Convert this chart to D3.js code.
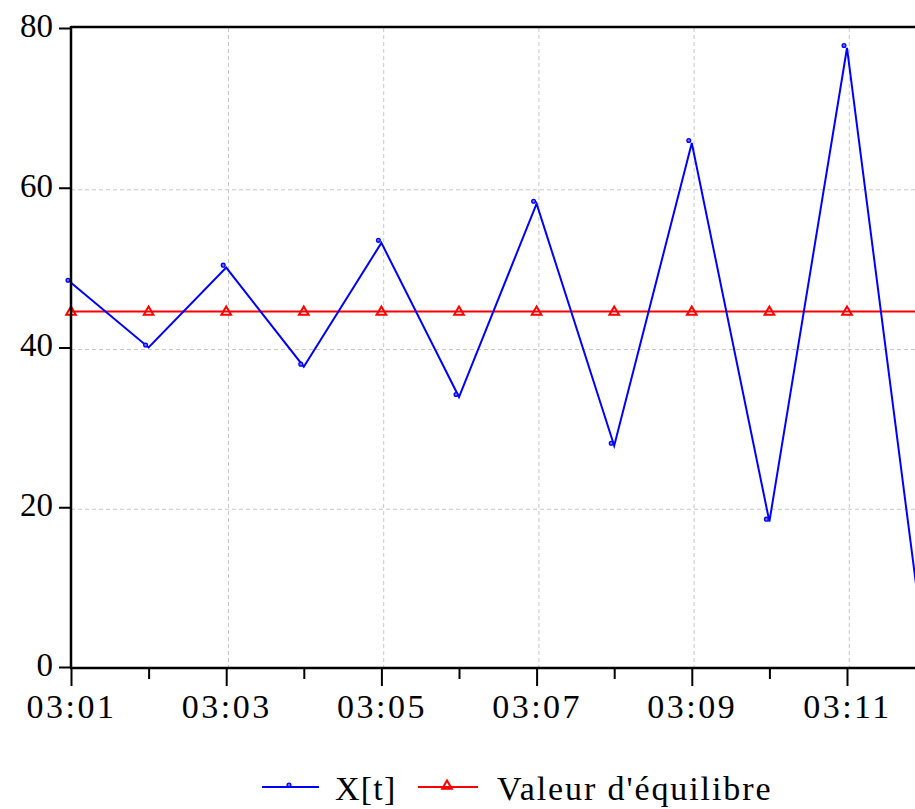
<!DOCTYPE html>
<html>
<head>
<meta charset="utf-8">
<script src="https://cdn.jsdelivr.net/npm/d3@7"></script>
<style>
  body { margin: 0; background: #fff; overflow: hidden; }
  svg text { font-family: "Times New Roman", Times, "Liberation Serif", "DejaVu Serif", "Noto Serif", serif; fill: #000; }
</style>
</head>
<body>
<svg width="915" height="809"></svg>
<script>
(function() {
  // values
  var times = ["03:01", "03:02", "03:03", "03:04", "03:05", "03:06",
               "03:07", "03:08", "03:09", "03:10", "03:11", "03:12"];
  var xt = [48.1, 40.0, 50.0, 37.6, 53.1, 33.8, 58.0, 27.7, 65.6, 18.2, 77.5, 2.0];
  var equilibre = [44.5, 44.5, 44.5, 44.5, 44.5, 44.5, 44.5, 44.5, 44.5, 44.5, 44.5, 44.5];
  var yTicks = [0, 20, 40, 60, 80];
  var seriesNames = ["X[t]", "Valeur d'équilibre"];

  var svg = d3.select("svg");
  var parse = d3.timeParse("%H:%M"),
      fmt = d3.timeFormat("%H:%M");
  var dates = times.map(parse);

  var left = 71, top = 28, bottom = 667;

  var x = d3.scaleTime()
      .domain([dates[0], dates[dates.length - 1]])
      .range([left, left + 11 * 77.6]);

  var y = d3.scaleLinear()
      .domain([0, 80])
      .range([bottom, top]);

  // grid
  var grid = svg.append("g").attr("class", "grid")
      .attr("stroke", "#c8c8c8").attr("stroke-width", 1)
      .attr("stroke-dasharray", "4,3");

  grid.selectAll("line.h")
    .data(yTicks.filter(function(d) { return d > 0 && d < 80; }))
    .enter().append("line")
      .attr("x1", left).attr("x2", 915)
      .attr("y1", function(d) { return y(d) + 2; })
      .attr("y2", function(d) { return y(d) + 2; });

  grid.selectAll("line.v")
    .data(dates.filter(function(d, i) { return i % 2 === 0 && i > 0; }))
    .enter().append("line")
      .attr("x1", function(d) { return x(d) + 2.3; })
      .attr("x2", function(d) { return x(d) + 2.3; })
      .attr("y1", top).attr("y2", bottom);

  // equilibrium line
  var line = d3.line()
      .x(function(d, i) { return x(dates[i]); })
      .y(function(d) { return y(d); });

  svg.append("path")
      .datum(equilibre)
      .attr("fill", "none")
      .attr("stroke", "#ff0000")
      .attr("stroke-width", 2)
      .attr("d", line);

  var tri = d3.symbol().type(d3.symbolTriangle).size(40);
  svg.append("g").selectAll("path")
    .data(equilibre)
    .enter().append("path")
      .attr("d", tri)
      .attr("transform", function(d, i) { return "translate(" + x(dates[i]) + "," + (y(d) + 0.5) + ")"; })
      .attr("fill", "none")
      .attr("stroke", "#ff0000")
      .attr("stroke-width", 2);

  // X[t]
  svg.append("path")
      .datum(xt)
      .attr("fill", "none")
      .attr("stroke", "#0000ff")
      .attr("stroke-width", 2)
      .attr("d", line);

  svg.append("g").selectAll("circle")
    .data(xt)
    .enter().append("circle")
      .attr("cx", function(d, i) { return x(dates[i]) - 3; })
      .attr("cy", function(d) { return y(d) - 2.5; })
      .attr("r", 1.9)
      .attr("fill", "#7070ff")
      .attr("stroke", "#0000ff")
      .attr("stroke-width", 1.3);

  // frame
  svg.append("line")
      .attr("x1", left).attr("x2", 915)
      .attr("y1", top - 1).attr("y2", top - 1)
      .attr("stroke", "#000").attr("stroke-width", 2.5);

  // y axis
  var yAxis = svg.append("g")
      .attr("transform", "translate(" + left + ",0)")
      .call(d3.axisLeft(y).tickValues(yTicks).tickSize(12).tickPadding(6));
  yAxis.attr("font-family", null);
  yAxis.select(".domain").remove();
  yAxis.selectAll(".tick line").attr("stroke", "#000").attr("stroke-width", 2);
  yAxis.selectAll(".tick text")
      .attr("font-size", 33)
      .attr("dy", "0.25em");
  yAxis.append("line")
      .attr("x1", 0).attr("x2", 0)
      .attr("y1", top - 2).attr("y2", bottom + 1)
      .attr("stroke", "#000").attr("stroke-width", 2.5);

  // x axis
  var xAxis = svg.append("g")
      .attr("transform", "translate(0," + (bottom + 1) + ")")
      .call(d3.axisBottom(x)
        .tickValues(dates)
        .tickSize(18)
        .tickPadding(6)
        .tickFormat(function(d, i) { return i % 2 === 0 ? fmt(d) : ""; }));
  xAxis.attr("font-family", null);
  xAxis.select(".domain").remove();
  xAxis.selectAll(".tick line")
      .attr("stroke", "#000").attr("stroke-width", 2)
      .attr("y2", function(d, i) { return i % 2 === 0 ? 18 : 11; });
  xAxis.selectAll(".tick text")
      .attr("font-size", 34)
      .attr("letter-spacing", 2.5)
      .attr("dy", "0.75em");
  xAxis.append("line")
      .attr("x1", left - 1).attr("x2", 915)
      .attr("y1", 0).attr("y2", 0)
      .attr("stroke", "#000").attr("stroke-width", 2.5);

  // legend
  var legend = svg.append("g").attr("transform", "translate(0,787)");
  var lg1 = legend.append("g").attr("transform", "translate(262,0)");
  lg1.append("line").attr("x1", 0).attr("x2", 57).attr("y1", 0).attr("y2", 0)
      .attr("stroke", "#0000ff").attr("stroke-width", 2);
  lg1.append("circle").attr("cx", 27).attr("cy", -2).attr("r", 1.9)
      .attr("fill", "#7070ff").attr("stroke", "#0000ff").attr("stroke-width", 1.3);
  lg1.append("text").attr("x", 73).attr("y", 13)
      .attr("font-size", 34).attr("letter-spacing", 1.2)
      .text(seriesNames[0]);

  var lg2 = legend.append("g").attr("transform", "translate(418,0)");
  lg2.append("line").attr("x1", 0).attr("x2", 60).attr("y1", 0).attr("y2", 0)
      .attr("stroke", "#ff0000").attr("stroke-width", 2);
  lg2.append("path").attr("d", tri)
      .attr("transform", "translate(29,-1)")
      .attr("fill", "none").attr("stroke", "#ff0000").attr("stroke-width", 2);
  lg2.append("text").attr("x", 79).attr("y", 13)
      .attr("font-size", 34).attr("letter-spacing", 1.9)
      .text(seriesNames[1]);
})();
</script>
</body>
</html>
